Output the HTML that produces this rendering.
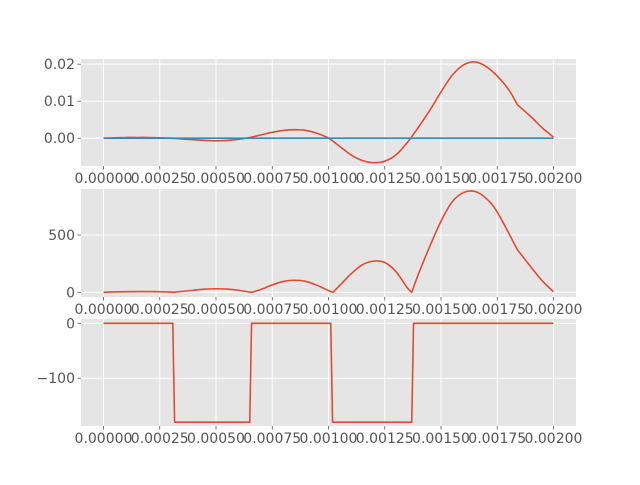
<!DOCTYPE html>
<html><head><meta charset="utf-8"><style>
body{margin:0;background:#fff;}
svg text{font-family:"DejaVu Sans","Liberation Sans",sans-serif;font-size:14px;fill:#555;}
</style></head><body>
<svg id="chart" width="640" height="480" viewBox="0 0 640 480" xmlns="http://www.w3.org/2000/svg"></svg>
<script>
const xTicks=[0,0.00025,0.0005,0.00075,0.001,0.00125,0.0015,0.00175,0.002];
const xTickLabels=["0.00000","0.00025","0.00050","0.00075","0.00100","0.00125","0.00150","0.00175","0.00200"];
const sigT=[0,0.5,1,1.5,2,2.5,3,3.5,4,4.5,5,5.5,6,6.5,7,7.5,8,8.5,9,9.5,10,10.5,11,11.5,12,12.5,13,13.5,14,14.5,15,15.5,16,16.5,17,17.5,18,18.4,19,19.5,20];
const sigV=[0,0.0001,0.0002,0.0002,0.0002,0.0001,0,-0.0002,-0.0004,-0.0006,-0.0007,-0.0006,-0.0003,0.0002,0.0009,0.0016,0.0021,0.0023,0.0021,0.0013,0,-0.0022,-0.0045,-0.006,-0.0066,-0.0062,-0.0045,-0.0012,0.003,0.0075,0.0125,0.017,0.0198,0.0206,0.0194,0.0168,0.0132,0.009,0.0058,0.0028,0.0003];
const sigBreaks=[37];
const baseT=[0,20];
const baseV=[0,0];
const magT=[0,1,2,3,3.1,3.5,4,4.5,5,5.5,6,6.5,6.6,7,7.5,8,8.5,9,9.5,10,10.2,10.5,11,11.5,12,12.5,13,13.5,13.7,14,14.5,15,15.5,16,16.5,17,17.5,18.4,19,19.5,20];
const magV=[0,5,6,2,0,8,18,27,31,28,18,2,0,25,65,95,105,95,60,15,0,60,160,240,272,260,180,40,0,160,400,620,790,870,880,820,700,370,220,100,5];
const magBreaks=[4,12,20,28,37];
const phT=[0,3.08,3.16,6.5,6.58,10.1,10.18,13.7,13.78,20];
const phV=[0,0,-180,-180,0,0,-180,-180,0,0];
const yTicks1=[0,0.01,0.02], yLab1=["0.00","0.01","0.02"];
const yTicks2=[0,500], yLab2=["0","500"];
const yTicks3=[-100,0], yLab3=["\u2212100","0"];

const svg=document.getElementById('chart');
const NS="http://www.w3.org/2000/svg";
const X0=81,X1=576,xmin=-0.0001,xmax=0.0021;
const xs=v=>X0+(v-xmin)/(xmax-xmin)*(X1-X0);
function mk(tag,attrs,parent){const e=document.createElementNS(NS,tag);for(const k in attrs)e.setAttribute(k,attrs[k]);(parent||svg).appendChild(e);return e;}
function pathD(P,breaks,smooth){
  if(!smooth) return 'M'+P.map(p=>p[0].toFixed(2)+','+p[1].toFixed(2)).join(' L');
  let d='M'+P[0][0].toFixed(2)+','+P[0][1].toFixed(2);
  for(let i=0;i<P.length-1;i++){
    const p0=(i===0||breaks.includes(i))?P[i]:P[i-1];
    const p3=(i+1===P.length-1||breaks.includes(i+1))?P[i+1]:P[i+2];
    const p1=P[i],p2=P[i+1];
    const c1=[p1[0]+(p2[0]-p0[0])/6,p1[1]+(p2[1]-p0[1])/6];
    const c2=[p2[0]-(p3[0]-p1[0])/6,p2[1]-(p3[1]-p1[1])/6];
    d+=' C'+c1[0].toFixed(2)+','+c1[1].toFixed(2)+' '+c2[0].toFixed(2)+','+c2[1].toFixed(2)+' '+p2[0].toFixed(2)+','+p2[1].toFixed(2);
  }
  return d;
}
function panel(name,top,bot,ymin,ymax,yt,yl,series){
  const g=mk('g',{});
  
  
  const ys=v=>bot-(v-ymin)/(ymax-ymin)*(bot-top);
  const bg=mk('rect',{x:X0,y:top,width:X1-X0,height:bot-top,fill:'#e5e5e5'},g);
  
  
  xTicks.forEach((t,i)=>{
    const x=xs(t);
    mk('line',{x1:x,x2:x,y1:top,y2:bot,stroke:'#fff','stroke-width':1},g);
    mk('line',{x1:x,x2:x,y1:bot,y2:bot+3.5,stroke:'#555','stroke-width':0.8},g);
    const tx=mk('text',{x:x,y:bot+17,'text-anchor':'middle'},g);
    tx.textContent=xTickLabels[i];
    
    
  });
  yt.forEach((v,i)=>{
    const y=ys(v);
    mk('line',{x1:X0,x2:X1,y1:y,y2:y,stroke:'#fff','stroke-width':1},g);
    mk('line',{x1:X0-3.5,x2:X0,y1:y,y2:y,stroke:'#555','stroke-width':0.8},g);
    const tx=mk('text',{x:X0-6,y:y+5,'text-anchor':'end'},g);
    tx.textContent=yl[i];
    
    
  });
  series.forEach(s=>{
    const P=s.t.map((t,i)=>[xs(t*1e-4),ys(s.v[i])]);
    const pl=mk('path',{d:pathD(P,s.b||[],s.smooth),fill:'none',stroke:s.c,'stroke-width':1.6,'stroke-linejoin':'round'},g);
    
    
  });
}
panel('signal-panel',59,166,-0.0075,0.0214,yTicks1,yLab1,[{t:sigT,v:sigV,c:'#E24A33',n:'signal-line',b:sigBreaks,smooth:true},{t:baseT,v:baseV,c:'#348ABD',n:'zero-line'}]);
panel('magnitude-panel',189,297,-41,901,yTicks2,yLab2,[{t:magT,v:magV,c:'#E24A33',n:'magnitude-line',b:magBreaks,smooth:true}]);
panel('phase-panel',319,426,-187,7.8,yTicks3,yLab3,[{t:phT,v:phV,c:'#E24A33',n:'phase-line'}]);
</script>
</body></html>
